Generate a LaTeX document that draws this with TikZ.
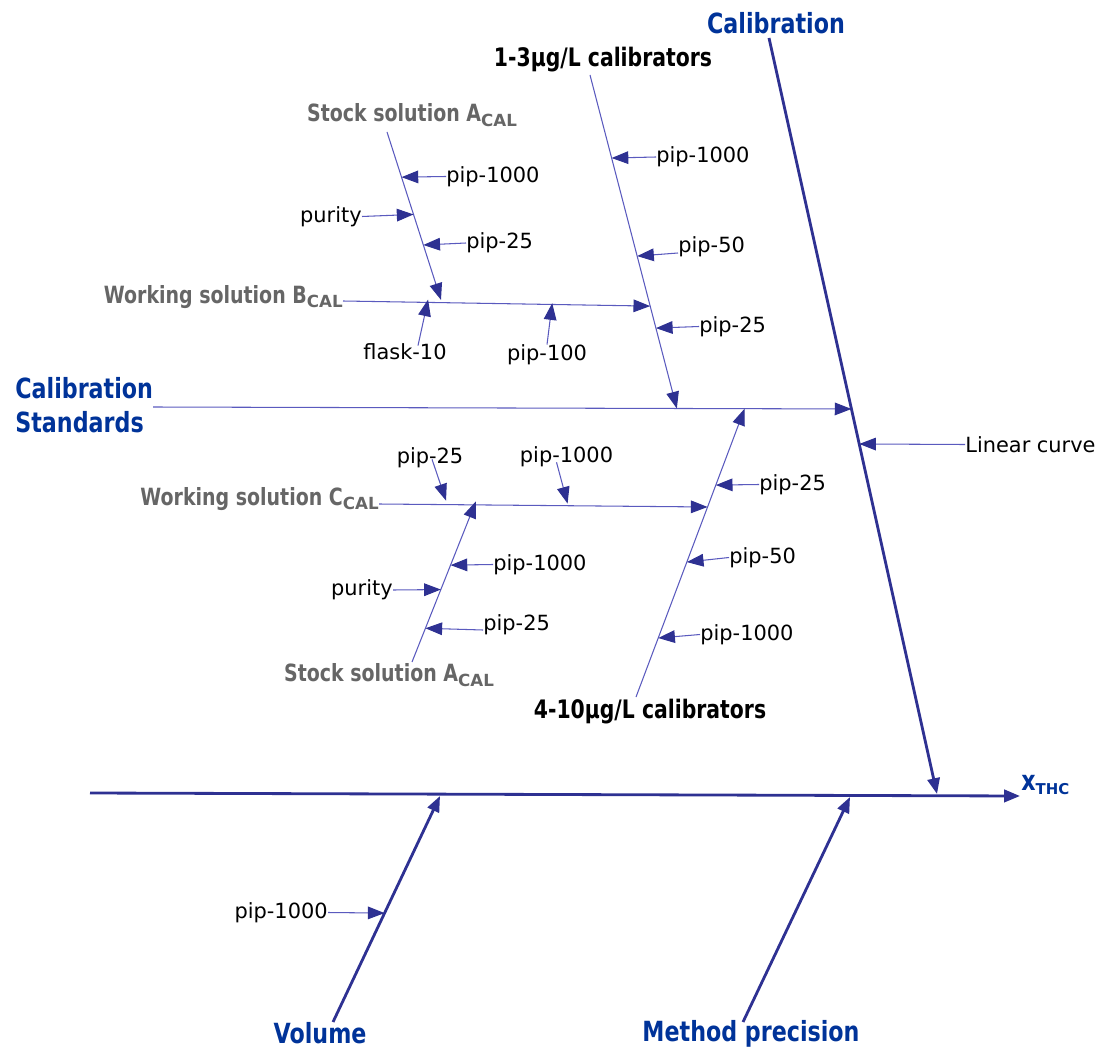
\documentclass[tikz,border=0pt]{standalone}
\usepackage{fontspec}
\setmainfont{DejaVu Sans}[BoldFeatures={FakeStretch=0.8}]
\newfontfamily\subfont{DejaVu Sans}
\usetikzlibrary{arrows.meta,calc}

\definecolor{bonedark}{RGB}{46,49,146}
\definecolor{bonethin}{RGB}{90,90,190}
\definecolor{headblue}{RGB}{0,51,153}
\definecolor{stepgray}{RGB}{102,102,102}

\newcommand{\lowsub}[2][9.5]{\raisebox{-2.5pt}{\subfont\bfseries\fontsize{#1}{#1}\selectfont #2}}

\tikzset{
  mainbone/.style={draw=bonedark, line width=1.6pt, -{Triangle[length=9pt,width=7pt]}},
  subbone/.style={draw=bonethin, line width=0.6pt, -{Triangle[length=9.5pt,width=7.2pt,color=bonedark]}},
  causelabel/.style={text=headblue, font=\bfseries\fontsize{15.8}{19}\selectfont, inner sep=0pt},
  steplabel/.style={text=stepgray, font=\bfseries\fontsize{13.5}{16}\selectfont, inner sep=0pt},
  levellabel/.style={text=black, font=\bfseries\fontsize{14.5}{17}\selectfont, inner sep=0pt},
  factor/.style={font=\fontsize{11.9}{14}\selectfont, inner sep=0pt},
}

\begin{document}
\begin{tikzpicture}[x=0.02cm, y=-0.02cm]
  \useasboundingbox (0,0) rectangle (1101,1050);

  % Spine and the three main causes.
  \coordinate (spS) at (90,793);
  \coordinate (spE) at (1020,796);
  \node[causelabel, anchor=west] (xthc) at (1021,785) {x\lowsub[8.5]{THC}};
  \draw[mainbone] (spS) -- (spE);

  \coordinate (calT) at (769,38);
  \coordinate (calB) at (937,794);
  \node[causelabel] (calib) at (776,23) {Calibration};
  \draw[mainbone] (calT) -- (calB);

  \coordinate (volB) at (333,1022);
  \coordinate (volT) at (440,796);
  \node[causelabel] (volume) at (320,1033) {Volume};
  \draw[mainbone] (volB) -- (volT);

  \coordinate (metB) at (743,1022);
  \coordinate (metT) at (850,797);
  \node[causelabel] (method) at (751,1034) {Method precision};
  \draw[mainbone] (metB) -- (metT);

  % Factors that act on the main causes directly.
  \node[factor, anchor=east] (volpip) at (328,912.5) {pip-1000};
  \draw[subbone] (volpip.east) -- ($(volB)!0.482!(volT)$);
  \node[factor, anchor=west] (linear) at (965,444.5) {Linear curve};
  \draw[subbone] (linear.west) -- ($(calT)!0.537!(calB)$);

  % Calibration standards feed the calibration bone.
  \coordinate (csS) at (153,407);
  \coordinate (csE) at ($(calT)!0.4907!(calB)$);
  \node[causelabel, anchor=west, align=left] (calstd) at (15,405) {Calibration\\Standards};
  \draw[subbone] (csS) -- (csE);

  % The 1-3 calibrators, from working solution B.
  \coordinate (loT) at (590,75);
  \coordinate (loB) at ($(csS)!0.75!(csE)$);
  \node[levellabel] (lolab) at (603,60) {1-3µg/L calibrators};
  \draw[subbone] (loT) -- (loB);
  \node[factor, anchor=west] (lop1000) at (656,157) {pip-1000};
  \draw[subbone] (lop1000.west) -- ($(loT)!0.249!(loB)$);
  \node[factor, anchor=base west] (lop50) at (678,253) {pip-50};
  \draw[subbone] (lop50.base west) -- ($(loT)!0.543!(loB)$);
  \node[factor, anchor=west] (lop25) at (699,326.5) {pip-25};
  \draw[subbone] (lop25.west) -- ($(loT)!0.759!(loB)$);

  \node[steplabel, anchor=east] (wbl) at (343,297) {Working solution B\lowsub{CAL}};
  \coordinate (wbE) at ($(loT)!0.693!(loB)$);
  \draw[subbone] ($(wbl.east)+(0,4)$) -- (wbE);
  \node[factor] (flask) at (405,352) {flask-10};
  \draw[subbone] ($(flask.north)+(13,2)$) -- ($(wbl.east)!0.277!(wbE)$);
  \node[factor] (wbp100) at (547,355) {pip-100};
  \draw[subbone] (wbp100.north) -- ($(wbl.east)!0.681!(wbE)$);

  % Stock solution A, diluted into B.
  \node[steplabel] (sal) at (412,115) {Stock solution A\lowsub{CAL}};
  \coordinate (saT) at (387,132);
  \coordinate (saB) at ($(wbl.east)!0.319!(wbE)$);
  \draw[subbone] (saT) -- (saB);
  \node[factor, anchor=west] (sap1000) at (446,176.5) {pip-1000};
  \draw[subbone] (sap1000.west) -- ($(saT)!0.269!(saB)$);
  \node[factor, anchor=east] (sapur) at (362,216.5) {purity};
  \draw[subbone] (sapur.east) -- ($(saT)!0.491!(saB)$);
  \node[factor, anchor=west] (sap25) at (466,243) {pip-25};
  \draw[subbone] (sap25.west) -- ($(saT)!0.673!(saB)$);

  % The 4-10 calibrators, from working solution C.
  \coordinate (hiB) at (636,697);
  \coordinate (hiT) at ($(csS)!0.847!(csE)$);
  \node[levellabel] (hilab) at (650,712) {4-10µg/L calibrators};
  \draw[subbone] (hiB) -- (hiT);
  \node[factor, anchor=west] (hip25) at (759,484.5) {pip-25};
  \draw[subbone] (hip25.west) -- ($(hiB)!0.735!(hiT)$);
  \node[factor, anchor=west] (hip50) at (729,557.5) {pip-50};
  \draw[subbone] (hip50.west) -- ($(hiB)!0.468!(hiT)$);
  \node[factor, anchor=west] (hip1000) at (700,634.5) {pip-1000};
  \draw[subbone] (hip1000.west) -- ($(hiB)!0.2046!(hiT)$);

  \node[steplabel, anchor=east] (wcl) at (379,499) {Working solution C\lowsub{CAL}};
  \coordinate (wcE) at ($(hiB)!0.659!(hiT)$);
  \draw[subbone] ($(wcl.east)+(0,5)$) -- (wcE);
  \node[factor] (wcp25) at (430,457.5) {pip-25};
  \draw[subbone] ($(wcp25.base)+(2,-4)$) -- ($(wcl.east)!0.204!(wcE)$);
  \node[factor] (wcp1000) at (566.5,456.5) {pip-1000};
  \draw[subbone] ($(wcp1000.base)+(-10,0)$) -- ($(wcl.east)!0.574!(wcE)$);

  % Stock solution A, diluted into C.
  \node[steplabel] (sbl) at (389,675) {Stock solution A\lowsub{CAL}};
  \coordinate (sbB) at (412,662);
  \coordinate (sbT) at ($(wcl.east)!0.295!(wcE)$);
  \draw[subbone] (sbB) -- (sbT);
  \node[factor, anchor=west] (sbp1000) at (493,564.5) {pip-1000};
  \draw[subbone] (sbp1000.west) -- ($(sbB)!0.603!(sbT)$);
  \node[factor, anchor=east] (sbpur) at (393,590) {purity};
  \draw[subbone] (sbpur.east) -- ($(sbB)!0.451!(sbT)$);
  \node[factor, anchor=base west] (sbp25) at (483,630) {pip-25};
  \draw[subbone] (sbp25.base west) -- ($(sbB)!0.21!(sbT)$);
\end{tikzpicture}
\end{document}
